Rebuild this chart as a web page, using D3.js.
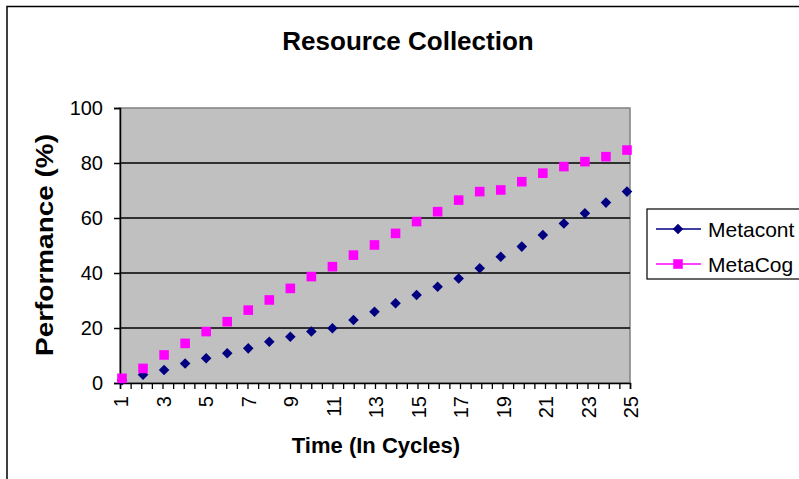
<!DOCTYPE html>
<html>
<head>
  <meta charset="utf-8">
  <script src="https://cdnjs.cloudflare.com/ajax/libs/d3/7.8.5/d3.min.js"></script>
  <style>
    body { margin: 0; background: #fff; }
    text { font-family: "Liberation Sans", Arial, sans-serif; }
  </style>
</head>
<body>
  <script>
    // data
    var cycles = d3.range(1, 26);
    var metacont = [1, 3, 4.7, 7.1, 9, 10.8, 12.6, 15, 16.8, 18.7, 19.9, 22.9, 25.9, 29, 32,
      35, 38, 41.7, 45.9, 49.6, 53.8, 58, 61.7, 65.6, 69.6];
    var metacog = [1.7, 5.3, 10.2, 14.4, 18.7, 22.3, 26.5, 30.2, 34.4, 38.7, 42.3, 46.5, 50.2,
      54.4, 58.7, 62.3, 66.5, 69.6, 70.2, 73.2, 76.3, 78.7, 80.5, 82.3, 84.7];
    var yTicks = [0, 20, 40, 60, 80, 100];
    var series = [
      { name: "Metacont", values: metacont, color: "#000080", shape: "diamond" },
      { name: "MetaCog", values: metacog, color: "#ff00ff", shape: "square" }
    ];

    var W = 799, H = 479;
    var svg = d3.select("body").append("svg").attr("width", W).attr("height", H);

    // chart area border (runs off the right edge)
    svg.append("rect").attr("x", 7).attr("y", 6.5).attr("width", 820).attr("height", 500)
      .attr("fill", "#fff").attr("stroke", "#000").attr("stroke-width", 1.5);

    var x = d3.scaleLinear().domain([1, 25]).range([120, 630]);
    var xp = d3.scaleLinear().domain([1, 25]).range([122, 627]);
    var y = d3.scaleLinear().domain([0, 100]).range([383, 108]);

    // plot area
    svg.append("rect").attr("x", 120).attr("y", 108).attr("width", 510).attr("height", 275)
      .attr("fill", "#c0c0c0").attr("stroke", "#808080").attr("stroke-width", 1.5);

    // gridlines
    svg.append("g").selectAll("line").data(yTicks.slice(1, -1)).enter().append("line")
      .attr("x1", 120).attr("x2", 630)
      .attr("y1", function (d) { return y(d); }).attr("y2", function (d) { return y(d); })
      .attr("stroke", "#000").attr("stroke-width", 1.5);

    // y axis
    var yAxis = svg.append("g").attr("transform", "translate(120,0)")
      .call(d3.axisLeft(y).tickValues(yTicks).tickSize(6).tickPadding(11));
    yAxis.select(".domain").attr("stroke", "#000").attr("stroke-width", 1.5);
    yAxis.selectAll(".tick line").attr("stroke-width", 1.5);
    yAxis.selectAll("text").style("font-family", "Liberation Sans, Arial, sans-serif")
      .style("font-size", "20px").attr("fill", "#000");

    // x axis: minor ticks every half cycle, labels on odd cycles
    var halfTicks = d3.range(1, 25.01, 0.5);
    var xAxis = svg.append("g").attr("transform", "translate(0,383)")
      .call(d3.axisBottom(x).tickValues(halfTicks).tickSize(6).tickFormat(""));
    xAxis.select(".domain").attr("stroke", "#000").attr("stroke-width", 1.5);
    xAxis.selectAll(".tick line").attr("stroke-width", 1.3);

    svg.append("g").selectAll("text").data(cycles.filter(function (d) { return d % 2 === 1; }))
      .enter().append("text")
      .attr("transform", function (d) { return "translate(" + (x(d) + 1) + ",396) rotate(-90)"; })
      .attr("text-anchor", "end").attr("dy", "0.35em")
      .style("font-size", "20px").text(function (d) { return d; });

    // markers
    var sym = {
      diamond: d3.symbol().type(d3.symbolSquare).size(56),
      square: d3.symbol().type(d3.symbolSquare).size(92)
    };
    series.forEach(function (s) {
      svg.append("g").selectAll("path").data(s.values).enter().append("path")
        .attr("d", sym[s.shape]())
        .attr("transform", function (d, i) {
          return "translate(" + xp(cycles[i]) + "," + y(d) + ")" + (s.shape === "diamond" ? " rotate(45)" : "");
        })
        .attr("fill", s.color);
    });

    // titles
    svg.append("text").attr("x", 408).attr("y", 50).attr("text-anchor", "middle")
      .style("font-size", "26px").style("font-weight", "bold").text("Resource Collection");
    svg.append("text").attr("x", 376).attr("y", 453).attr("text-anchor", "middle")
      .style("font-size", "22px").style("font-weight", "bold").text("Time (In Cycles)");
    svg.append("text").attr("transform", "translate(53,245) rotate(-90)").attr("text-anchor", "middle")
      .attr("textLength", 222).attr("lengthAdjust", "spacingAndGlyphs")
      .style("font-size", "23px").style("font-weight", "bold").text("Performance (%)");

    // legend
    var lg = svg.append("g").attr("transform", "translate(647,209)");
    lg.append("rect").attr("width", 200).attr("height", 70)
      .attr("fill", "#fff").attr("stroke", "#000").attr("stroke-width", 1.2);
    series.forEach(function (s, i) {
      var row = lg.append("g").attr("transform", "translate(0," + (20 + i * 35) + ")");
      row.append("line").attr("x1", 9).attr("x2", 54).attr("stroke", s.color).attr("stroke-width", 1.3);
      row.append("path").attr("d", sym[s.shape]())
        .attr("transform", "translate(31,0)" + (s.shape === "diamond" ? " rotate(45)" : ""))
        .attr("fill", s.color);
      row.append("text").attr("x", 61).attr("dy", "0.36em").style("font-size", "21px").text(s.name);
    });
  </script>
</body>
</html>
